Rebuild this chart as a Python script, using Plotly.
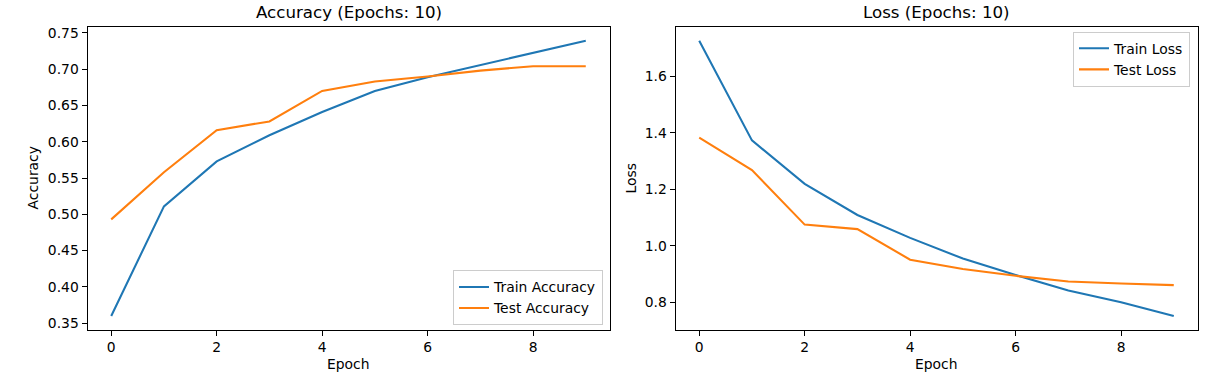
import plotly.graph_objects as go

epochs = list(range(10))
train_acc = [0.360, 0.511, 0.573, 0.609, 0.641, 0.670, 0.689, 0.706, 0.722, 0.739]
test_acc = [0.493, 0.558, 0.616, 0.628, 0.670, 0.683, 0.690, 0.698, 0.704, 0.704]
train_loss = [1.725, 1.373, 1.219, 1.109, 1.028, 0.955, 0.897, 0.842, 0.800, 0.752]
test_loss = [1.383, 1.268, 1.075, 1.059, 0.951, 0.918, 0.894, 0.874, 0.867, 0.861]
acc_ticks = [0.35, 0.40, 0.45, 0.50, 0.55, 0.60, 0.65, 0.70, 0.75]
loss_ticks = [0.8, 1.0, 1.2, 1.4, 1.6]
x_ticks = [0, 2, 4, 6, 8]

W, H = 1228, 379
BLUE, ORANGE = "#1f77b4", "#ff7f0e"
FONT = "DejaVu Sans"
FS = 13.89

def pad(vals):
    lo, hi = min(vals), max(vals)
    m = (hi - lo) * 0.05
    return [lo - m, hi + m]

# axes boxes in pixels
L = (87.5, 609.5)
R = (675.5, 1197.5)
TOP, BOT = 25.3, 330.3
xd1 = [L[0] / W, L[1] / W]
xd2 = [R[0] / W, R[1] / W]
yd = [1 - BOT / H, 1 - TOP / H]

fig = go.Figure()
lw = 2.08
fig.add_trace(go.Scatter(x=epochs, y=train_acc, mode="lines", name="Train Accuracy",
                         line=dict(color=BLUE, width=lw), xaxis="x", yaxis="y", legend="legend"))
fig.add_trace(go.Scatter(x=epochs, y=test_acc, mode="lines", name="Test Accuracy",
                         line=dict(color=ORANGE, width=lw), xaxis="x", yaxis="y", legend="legend"))
fig.add_trace(go.Scatter(x=epochs, y=train_loss, mode="lines", name="Train Loss",
                         line=dict(color=BLUE, width=lw), xaxis="x2", yaxis="y2", legend="legend2"))
fig.add_trace(go.Scatter(x=epochs, y=test_loss, mode="lines", name="Test Loss",
                         line=dict(color=ORANGE, width=lw), xaxis="x2", yaxis="y2", legend="legend2"))

axis_common = dict(showgrid=False, zeroline=False, showline=True, linecolor="black", linewidth=1,
                   mirror=True, ticks="outside", ticklen=5, tickwidth=1, tickcolor="black",
                   tickfont=dict(family=FONT, size=FS, color="black"))

xr = pad(epochs)
fig.update_layout(
    width=W, height=H,
    margin=dict(l=0, r=0, t=0, b=0),
    paper_bgcolor="white", plot_bgcolor="white",
    font=dict(family=FONT, size=FS, color="black"),
    xaxis=dict(domain=xd1, range=xr, tickvals=x_ticks, anchor="y", **axis_common),
    yaxis=dict(domain=yd, range=pad(train_acc + test_acc), tickvals=acc_ticks,
               tickformat=".2f", anchor="x", **axis_common),
    xaxis2=dict(domain=xd2, range=xr, tickvals=x_ticks, anchor="y2", **axis_common),
    yaxis2=dict(domain=yd, range=pad(train_loss + test_loss), tickvals=loss_ticks,
                tickformat=".1f", anchor="x2", **axis_common),
    legend=dict(x=603 / W, y=1 - 326 / H, xanchor="right", yanchor="bottom",
                bgcolor="rgba(255,255,255,0.8)", bordercolor="#cccccc", borderwidth=1,
                font=dict(family=FONT, size=FS, color="black"), itemwidth=30,
                tracegroupgap=0),
    legend2=dict(x=1190 / W, y=1 - 30 / H, xanchor="right", yanchor="top",
                 bgcolor="rgba(255,255,255,0.8)", bordercolor="#cccccc", borderwidth=1,
                 font=dict(family=FONT, size=FS, color="black"), itemwidth=30,
                 tracegroupgap=0),
    showlegend=True,
)

ann = []
for (xa, xb), title, ylab, ylx in [(L, "Accuracy (Epochs: 10)", "Accuracy", 33),
                                   (R, "Loss (Epochs: 10)", "Loss", 631)]:
    cx = (xa + xb) / 2 / W
    ann.append(dict(text=title, x=cx, y=1 - 10.5 / H, xref="paper", yref="paper",
                    xanchor="center", yanchor="middle", showarrow=False,
                    font=dict(family=FONT, size=16.67, color="black")))
    ann.append(dict(text="Epoch", x=cx, y=1 - 365 / H, xref="paper", yref="paper",
                    xanchor="center", yanchor="middle", showarrow=False,
                    font=dict(family=FONT, size=FS, color="black")))
    ann.append(dict(text=ylab, x=ylx / W, y=1 - (TOP + BOT) / 2 / H, xref="paper", yref="paper",
                    xanchor="center", yanchor="middle", showarrow=False, textangle=-90,
                    font=dict(family=FONT, size=FS, color="black")))
fig.update_layout(annotations=ann)

fig.write_html("out.html", config={"displayModeBar": False},
               post_script="document.body.style.margin='0';document.body.style.overflow='hidden';")
